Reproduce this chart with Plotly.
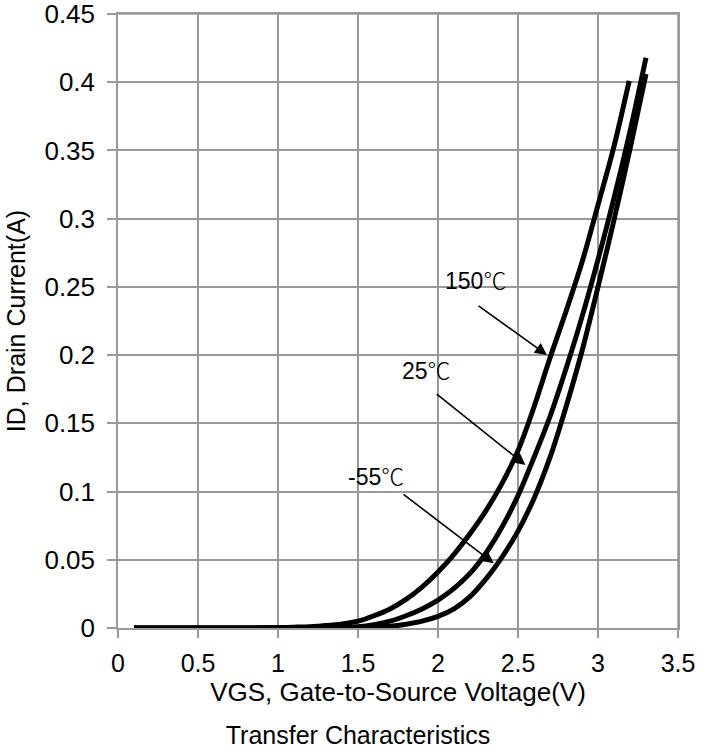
import plotly.graph_objects as go

# ---- data ----
vgs_150 = [0.1, 0.8, 1.0, 1.1, 1.2, 1.3, 1.4, 1.5, 1.6, 1.7, 1.8, 1.9, 2.0, 2.1, 2.2, 2.3, 2.4, 2.5, 2.6, 2.7, 2.8, 2.9, 3.0, 3.1, 3.195]
id_150 = [0.0, 0.0, 0.0003, 0.0006, 0.001, 0.0018, 0.003, 0.005, 0.009, 0.014, 0.021, 0.030, 0.041, 0.054, 0.069, 0.086, 0.106, 0.13, 0.162, 0.198, 0.232, 0.268, 0.31, 0.353, 0.401]

vgs_25 = [0.1, 1.0, 1.3, 1.4, 1.5, 1.6, 1.7, 1.8, 1.9, 2.0, 2.1, 2.2, 2.3, 2.4, 2.5, 2.6, 2.7, 2.8, 2.9, 3.0, 3.1, 3.2, 3.3]
id_25 = [0.0, 0.0, 0.0003, 0.0006, 0.001, 0.0025, 0.005, 0.009, 0.014, 0.0205, 0.029, 0.04, 0.055, 0.074, 0.097, 0.125, 0.155, 0.19, 0.228, 0.27, 0.315, 0.364, 0.418]

vgs_m55 = [0.1, 1.0, 1.5, 1.6, 1.7, 1.8, 1.9, 2.0, 2.1, 2.2, 2.3, 2.4, 2.5, 2.6, 2.7, 2.8, 2.9, 3.0, 3.1, 3.2, 3.3]
id_m55 = [0.0, 0.0, 0.0002, 0.0005, 0.0012, 0.0028, 0.005, 0.0085, 0.014, 0.023, 0.036, 0.052, 0.071, 0.095, 0.125, 0.162, 0.203, 0.25, 0.299, 0.351, 0.406]

x_ticks = [0, 0.5, 1, 1.5, 2, 2.5, 3, 3.5]
x_tick_text = ["0", "0.5", "1", "1.5", "2", "2.5", "3", "3.5"]
y_ticks = [0, 0.05, 0.1, 0.15, 0.2, 0.25, 0.3, 0.35, 0.4, 0.45]
y_tick_text = ["0", "0.05", "0.1", "0.15", "0.2", "0.25", "0.3", "0.35", "0.4", "0.45"]

# labels: (number text, text_x, text_y, arrow_tail_x, arrow_tail_y, arrow_head_x, arrow_head_y)
labels = [
    ("150", 2.233, 0.256, 2.244, 0.2368, 2.681, 0.2001),
    ("25", 1.927, 0.190, 1.983, 0.1723, 2.546, 0.1195),
    ("-55", 1.614, 0.112, 1.775, 0.0988, 2.348, 0.0474),
]

FONT = "Liberation Sans, Arial, sans-serif"
GRID = "#999999"

fig = go.Figure()
for xs, ys, name in [(vgs_150, id_150, "150℃"), (vgs_25, id_25, "25℃"), (vgs_m55, id_m55, "-55℃")]:
    fig.add_trace(go.Scatter(x=xs, y=ys, mode="lines", name=name,
                             line=dict(color="black", width=5, shape="spline", smoothing=0.8),
                             showlegend=False, hoverinfo="x+y"))

for num, tx, ty, ax, ay, hx, hy in labels:
    txt = num + "<span style='font-family:Noto Sans CJK SC;font-weight:300'>℃</span>"
    fig.add_annotation(x=tx, y=ty, xref="x", yref="y", text=txt, showarrow=False,
                       font=dict(family=FONT, size=23, color="black"))
    fig.add_annotation(x=hx, y=hy, ax=ax, ay=ay, xref="x", yref="y", axref="x", ayref="y",
                       text="", showarrow=True, arrowhead=2, arrowsize=1.5, arrowwidth=1.6,
                       arrowcolor="black", standoff=0)

# frame lines at top / right edges of the plot area
fig.add_shape(type="line", xref="paper", yref="paper", x0=0, x1=1, y0=1, y1=1,
              line=dict(color=GRID, width=1.5), layer="below")
fig.add_shape(type="line", xref="paper", yref="paper", x0=1, x1=1, y0=0, y1=1,
              line=dict(color=GRID, width=1.5), layer="below")

fig.update_xaxes(range=[0, 3.5], tickvals=x_ticks, ticktext=x_tick_text,
                 showgrid=True, gridcolor=GRID, gridwidth=1.5,
                 showline=True, linecolor=GRID, linewidth=1.5, mirror=True,
                 ticks="outside", ticklen=8, tickwidth=1.5, tickcolor=GRID,
                 ticklabelstandoff=4, ticklabeloverflow="allow", automargin=False,
                 zeroline=False, tickfont=dict(family=FONT, size=25, color="black"),
                 title=dict(text="VGS, Gate-to-Source Voltage(V)", standoff=2,
                            font=dict(family=FONT, size=26, color="black")))
fig.update_yaxes(range=[0, 0.45], tickvals=y_ticks, ticktext=y_tick_text,
                 showgrid=True, gridcolor=GRID, gridwidth=1.5,
                 showline=True, linecolor=GRID, linewidth=1.5, mirror=True,
                 ticks="outside", ticklen=9, tickwidth=1.5, tickcolor=GRID,
                 ticklabelstandoff=7, ticklabeloverflow="allow", automargin=False,
                 zeroline=False, tickfont=dict(family=FONT, size=26, color="black"),
                 title=dict(text="ID, Drain Current(A)", standoff=12,
                            font=dict(family=FONT, size=25, color="black")))

fig.update_layout(
    width=716, height=754,
    margin=dict(l=118, r=38, t=14, b=126, autoexpand=False),
    paper_bgcolor="white", plot_bgcolor="white",
    title=dict(text="Transfer Characteristics", x=0.5, xref="container",
               y=1 - 735 / 754, yref="container", yanchor="middle", xanchor="center",
               font=dict(family=FONT, size=25, color="black")),
)

fig.write_html("out.html")
